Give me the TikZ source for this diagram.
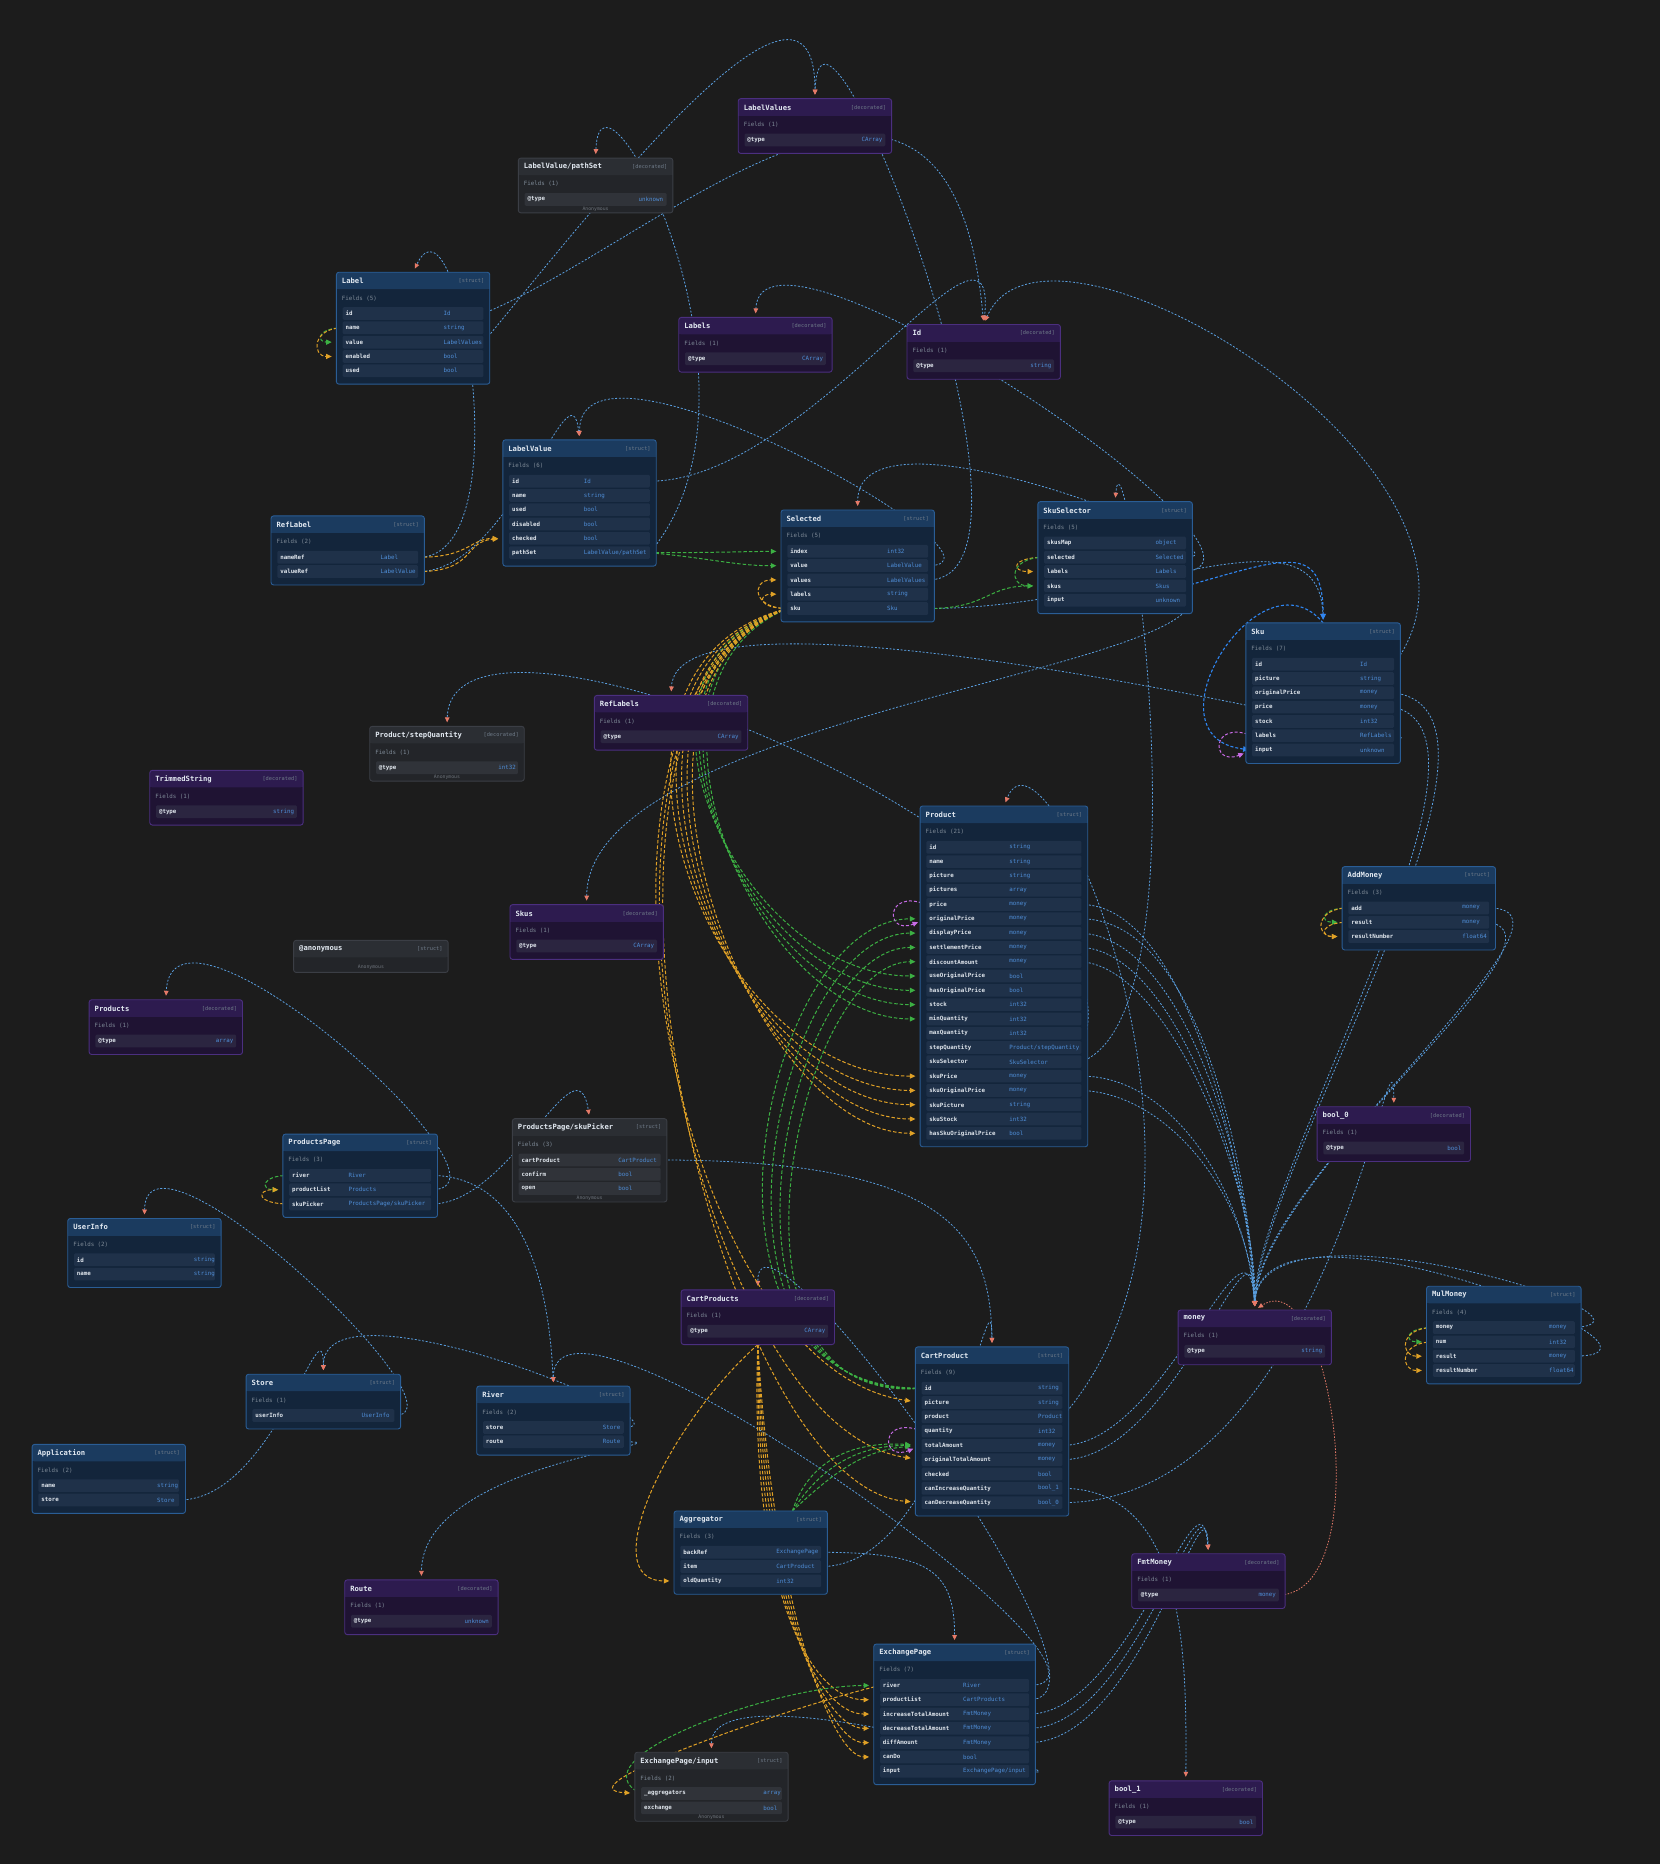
\documentclass[tikz,border=0pt]{standalone}
\usepackage{fontspec}
\setmonofont{DejaVu Sans Mono}
\usetikzlibrary{arrows.meta}

\definecolor{bgc}{HTML}{1C1C1C}
\definecolor{sbody}{HTML}{13253B}
\definecolor{shead}{HTML}{1B3B5F}
\definecolor{sline}{HTML}{2A5D95}
\definecolor{srow}{HTML}{1F3149}
\definecolor{dbody}{HTML}{1F1333}
\definecolor{dhead}{HTML}{2D1B4F}
\definecolor{dline}{HTML}{4B2F7F}
\definecolor{drow}{HTML}{2B2540}
\definecolor{abody}{HTML}{232529}
\definecolor{ahead}{HTML}{2B2E33}
\definecolor{aline}{HTML}{3B3E45}
\definecolor{arow}{HTML}{303339}
\definecolor{ctitle}{HTML}{E3EAF2}
\definecolor{ctag}{HTML}{6F7B89}
\definecolor{cfield}{HTML}{7F8B98}
\definecolor{cname}{HTML}{DFE5EC}
\definecolor{ctype}{HTML}{4F8ED8}
\definecolor{cfoot}{HTML}{6E747C}
\definecolor{cref}{HTML}{5A9FE0}
\definecolor{ctip}{HTML}{E57A68}
\definecolor{chl}{HTML}{2F86F2}
\definecolor{cdep}{HTML}{E0A126}
\definecolor{cgdep}{HTML}{3CB043}
\definecolor{cself}{HTML}{C76BE6}

\pgfdeclarelayer{back}
\pgfdeclarelayer{wires}
\pgfsetlayers{back,wires,main}

\tikzset{
  structbody/.style={fill=sbody}, structhead/.style={fill=shead},
  structline/.style={draw=sline,line width=0.9pt},
  decobody/.style={fill=dbody}, decohead/.style={fill=dhead},
  decoline/.style={draw=dline,line width=0.9pt},
  anonbody/.style={fill=abody}, anonhead/.style={fill=ahead},
  anonline/.style={draw=aline,line width=0.9pt},
  rowbase/.style={inner sep=0,outer sep=0,anchor=north west,minimum height=12.72pt,rounded corners=1.2pt},
  structrow/.style={rowbase,fill=srow},
  decorow/.style={rowbase,fill=drow},
  anonrow/.style={rowbase,fill=arow},
  boxnode/.style={inner sep=0,outer sep=0,anchor=north west},
  titletext/.style={anchor=west,inner sep=0,text=ctitle,font=\ttfamily\bfseries\fontsize{7.2}{8}\selectfont},
  tagtext/.style={anchor=east,inner sep=0,text=ctag,font=\ttfamily\fontsize{5.3}{6}\selectfont},
  fieldstext/.style={anchor=west,inner sep=0,text=cfield,font=\ttfamily\fontsize{5.8}{7}\selectfont},
  nametext/.style={anchor=west,inner sep=0,text=cname,font=\ttfamily\bfseries\fontsize{5.8}{7}\selectfont},
  typebase/.style={inner sep=0,text=ctype,font=\ttfamily\fontsize{5.8}{7}\selectfont},
  structtype/.style={typebase,anchor=west},
  anontype/.style={typebase,anchor=west},
  decotype/.style={typebase,anchor=east},
  foottext/.style={inner sep=0,text=cfoot,font=\ttfamily\fontsize{4.8}{5}\selectfont},
  ref/.style={draw=cref,line width=0.8pt,dash pattern=on 2pt off 1.7pt,
    -{Triangle[length=5pt,width=4.6pt,color=ctip]},shorten >=4pt},
  hot/.style={draw=ctip,line width=0.8pt,dash pattern=on 1.5pt off 1.5pt,
    -{Triangle[length=5pt,width=4.6pt,color=ctip]},shorten >=4pt},
  hl/.style={draw=chl,line width=1.1pt,dash pattern=on 3pt off 2pt,
    -{Triangle[length=6pt,width=5.5pt,color=chl]},shorten >=3pt},
  dep/.style={draw=cdep,line width=1pt,dash pattern=on 3.5pt off 2pt,
    -{Triangle[length=5.5pt,width=5pt,color=cdep]},shorten >=11pt},
  gdep/.style={draw=cgdep,line width=1pt,dash pattern=on 3.5pt off 2pt,
    -{Triangle[length=5.5pt,width=5pt,color=cgdep]},shorten >=11pt},
  selfdep/.style={draw=cself,line width=1pt,dash pattern=on 3pt off 2pt,
    -{Triangle[length=5.5pt,width=5pt,color=cself]},shorten >=9pt},
}

\def\anonkind{anon}
% #1 name, #2 kind, #3 x, #4 y, #5 width, #6 type column, #7 title, #8 tag, #9 fields
\newcommand{\tbox}[9]{%
  \xdef\nrows{0}%
  \foreach \rowname/\rowtype [count=\rowidx] in {#9} {\xdef\nrows{\rowidx}}%
  \pgfmathsetmacro\hb{34+12.03*\nrows}%
  \fill[#2body,rounded corners=2.5] (#3,#4) rectangle ++(#5,\hb);
  \fill[#2head,rounded corners=2.5] (#3,#4) rectangle ++(#5,14.3);
  \fill[#2head] (#3,#4+8) rectangle ++(#5,6.3);
  \draw[#2line,rounded corners=2.5] (#3,#4) rectangle ++(#5,\hb);
  \node[boxnode,minimum width=#5*1.1891pt,minimum height=\hb*1.1891pt] (#1) at (#3,#4) {};
  \node[titletext] at (#3+4.5,#4+7.3) {#7};
  \node[tagtext] at (#3+#5-4.5,#4+7.3) {#8};
  \node[fieldstext] at (#3+4.5,#4+21.9) {Fields (\nrows)};
  \foreach \rowname/\rowtype [count=\rowidx] in {#9} {%
    \pgfmathsetmacro\ry{#4+29.4+12.03*(\rowidx-1)}%
    \node[#2row,minimum width=(#5-10.6)*1.1891pt] (#1-\rowidx) at (#3+5.3,\ry) {};
    \node[nametext] at (#3+7.6,\ry+5.35) {\rowname};
    \node[#2type] at (#3+#6,\ry+5.35) {\rowtype};
  }%
  \def\kindarg{#2}\ifx\kindarg\anonkind
    \node[foottext] at (#3+#5/2,#4+\hb-3.2) {Anonymous};
  \fi
}

\begin{document}
\begin{tikzpicture}[x=1.1891pt,y=-1.1891pt]
\useasboundingbox (0,0) rectangle (1396,1568);
\begin{pgfonlayer}{back}
\fill[bgc] (0,0) rectangle (1396,1568);
\end{pgfonlayer}

% type boxes
\tbox{lvs}{deco}{621}{83}{129}{121.5}{LabelValues}{[decorated]}{@type/CArray}
\tbox{lvps}{anon}{436}{133}{130}{101}{LabelValue/pathSet}{[decorated]}{@type/unknown}
\tbox{lbl}{struct}{283}{229}{129}{90}{Label}{[struct]}{id/Id, name/string, value/LabelValues, enabled/bool, used/bool}
\tbox{lbs}{deco}{571}{267}{129}{121.5}{Labels}{[decorated]}{@type/CArray}
\tbox{idd}{deco}{763}{273}{129}{121.5}{Id}{[decorated]}{@type/string}
\tbox{lv}{struct}{423}{370}{129}{68}{LabelValue}{[struct]}{id/Id, name/string, used/bool, disabled/bool, checked/bool, pathSet/{LabelValue/pathSet}}
\tbox{rfl}{struct}{228}{434}{129}{92}{RefLabel}{[struct]}{nameRef/Label, valueRef/LabelValue}
\tbox{sel}{struct}{657}{429}{129}{89}{Selected}{[struct]}{index/int32, value/LabelValue, values/LabelValues, labels/string, sku/Sku}
\tbox{sks}{struct}{873}{422}{130}{99}{SkuSelector}{[struct]}{skusMap/object, selected/Selected, labels/Labels, skus/Skus, input/unknown}
\tbox{sku}{struct}{1048}{524}{130}{96}{Sku}{[struct]}{id/Id, picture/string, originalPrice/money, price/money, stock/int32, labels/RefLabels, input/unknown}
\tbox{rfls}{deco}{500}{585}{129}{121.5}{RefLabels}{[decorated]}{@type/CArray}
\tbox{psq}{anon}{311}{611}{130}{108}{Product/stepQuantity}{[decorated]}{@type/int32}
\tbox{tsr}{deco}{126}{648}{129}{121.5}{TrimmedString}{[decorated]}{@type/string}
\tbox{prd}{struct}{774}{678}{141}{75}{Product}{[struct]}{id/string, name/string, picture/string, pictures/array, price/money, originalPrice/money, displayPrice/money, settlementPrice/money, discountAmount/money, useOriginalPrice/bool, hasOriginalPrice/bool, stock/int32, minQuantity/int32, maxQuantity/int32, stepQuantity/{Product/stepQuantity}, skuSelector/SkuSelector, skuPrice/money, skuOriginalPrice/money, skuPicture/string, skuStock/int32, hasSkuOriginalPrice/bool}
\tbox{add}{struct}{1129}{729}{129}{101}{AddMoney}{[struct]}{add/money, result/money, resultNumber/float64}
\tbox{skus}{deco}{429}{761}{129}{121.5}{Skus}{[decorated]}{@type/CArray}
\tbox{prds}{deco}{75}{841}{129}{121.5}{Products}{[decorated]}{@type/array}
\tbox{bz}{deco}{1108}{931}{129}{121.5}{bool\_0}{[decorated]}{@type/bool}
\tbox{ppg}{struct}{238}{954}{130}{55}{ProductsPage}{[struct]}{river/River, productList/Products, skuPicker/{ProductsPage/skuPicker}}
\tbox{spk}{anon}{431}{941}{130}{89}{ProductsPage/skuPicker}{[struct]}{cartProduct/CartProduct, confirm/bool, open/bool}
\tbox{usr}{struct}{57}{1025}{129}{106}{UserInfo}{[struct]}{id/string, name/string}
\tbox{cps}{deco}{573}{1085}{129}{121.5}{CartProducts}{[decorated]}{@type/CArray}
\tbox{mny}{deco}{991}{1102}{129}{121.5}{money}{[decorated]}{@type/string}
\tbox{mul}{struct}{1200}{1082}{130}{103}{MulMoney}{[struct]}{money/money, num/int32, result/money, resultNumber/float64}
\tbox{cpr}{struct}{770}{1133}{129}{103}{CartProduct}{[struct]}{id/string, picture/string, product/Product, quantity/int32, totalAmount/money, originalTotalAmount/money, checked/bool, canIncreaseQuantity/bool\_1, canDecreaseQuantity/bool\_0}
\tbox{sto}{struct}{207}{1156}{130}{97}{Store}{[struct]}{userInfo/UserInfo}
\tbox{riv}{struct}{401}{1166}{129}{106}{River}{[struct]}{store/Store, route/Route}
\tbox{app}{struct}{27}{1215}{129}{105}{Application}{[struct]}{name/string, store/Store}
\tbox{agg}{struct}{567}{1271}{129}{86}{Aggregator}{[struct]}{backRef/ExchangePage, item/CartProduct, oldQuantity/int32}
\tbox{fmt}{deco}{952}{1307}{129}{121.5}{FmtMoney}{[decorated]}{@type/money}
\tbox{rte}{deco}{290}{1329}{129}{121.5}{Route}{[decorated]}{@type/unknown}
\tbox{exp}{struct}{735}{1383}{136}{75}{ExchangePage}{[struct]}{river/River, productList/CartProducts, increaseTotalAmount/FmtMoney, decreaseTotalAmount/FmtMoney, diffAmount/FmtMoney, canDo/bool, input/{ExchangePage/input}}
\tbox{exi}{anon}{534}{1474}{129}{108}{ExchangePage/input}{[struct]}{\_aggregators/array, exchange/bool}
\tbox{bo}{deco}{933}{1498}{129}{121.5}{bool\_1}{[decorated]}{@type/bool}

% @anonymous has no fields
\fill[anonbody,rounded corners=2.5] (247,791) rectangle ++(130,27);
\fill[anonhead,rounded corners=2.5] (247,791) rectangle ++(130,14.3);
\fill[anonhead] (247,799) rectangle ++(130,6.3);
\draw[anonline,rounded corners=2.5] (247,791) rectangle ++(130,27);
\node[boxnode,minimum width=130*1.1891pt,minimum height=27*1.1891pt] (anm) at (247,791) {};
\node[titletext] at (251.5,798.3) {@anonymous};
\node[tagtext] at (372.5,798.3) {[struct]};
\node[foottext] at (312,813.5) {Anonymous};

\begin{pgfonlayer}{wires}
% field -> type references
\path[ref] (lbl-1.east) .. controls (560,200) and (800,-40) .. (idd.north);
\path[ref] (lbl-3.east) .. controls (480,200) and (686,-70) .. (lvs.north);
\path[ref] (lv-1.east) .. controls (680,405) and (840,150) .. (idd.north);
\path[ref] (lv-6.east) .. controls (660,330) and (505,30) .. (lvps.north);
\path[ref] (rfl-1.east) .. controls (440,470) and (385,150) .. (lbl.north);
\path[ref] (rfl-2.east) .. controls (430,481) and (480,300) .. (lv.north);
\path[ref] (sel-2.east) .. controls (870,476) and (487,260) .. (lv.north);
\path[ref] (sel-3.east) .. controls (900,488) and (690,-60) .. (lvs.north);
\path[ref] (sel-5.east) .. controls (950,512) and (1110,420) .. (sku.north);
\path[ref] (sks-2.east) .. controls (1060,469) and (721,330) .. (sel.north);
\path[ref] (sks-3.east) .. controls (1100,470) and (640,160) .. (lbs.north);
\path[ref] (sks-4.east) .. controls (1060,560) and (494,600) .. (skus.north);
\path[ref] (sku-1.east) .. controls (1290,400) and (880,150) .. (idd.north);
\path[ref] (sku-3.east) .. controls (1300,600) and (1060,980) .. (mny.north);
\path[ref] (sku-4.east) .. controls (1280,620) and (1055,990) .. (mny.north);
\path[ref] (sku-6.east) .. controls (1250,640) and (570,470) .. (rfls.north);
\path[ref] (prd-5.east) .. controls (1000,761) and (1050,990) .. (mny.north);
\path[ref] (prd-6.east) .. controls (1010,773) and (1052,990) .. (mny.north);
\path[ref] (prd-7.east) .. controls (1000,790) and (1054,995) .. (mny.north);
\path[ref] (prd-8.east) .. controls (990,800) and (1056,1000) .. (mny.north);
\path[ref] (prd-9.east) .. controls (985,815) and (1058,1000) .. (mny.north);
\path[ref] (prd-17.east) .. controls (990,905) and (1050,1010) .. (mny.north);
\path[ref] (prd-18.east) .. controls (985,920) and (1052,1010) .. (mny.north);
\path[ref] (prd-15.east) .. controls (980,720) and (380,470) .. (psq.north);
\path[ref] (prd-16.east) .. controls (1020,850) and (945,340) .. (sks.north);
\path[ref] (add-1.east) .. controls (1350,764) and (1060,990) .. (mny.north);
\path[ref] (add-2.east) .. controls (1330,790) and (1058,990) .. (mny.north);
\path[ref] (mul-1.east) .. controls (1420,1110) and (1060,1000) .. (mny.north);
\path[ref] (mul-3.east) .. controls (1440,1140) and (1060,990) .. (mny.north);
\path[ref] (ppg-1.east) .. controls (440,989) and (462,1080) .. (riv.north);
\path[ref] (ppg-2.east) .. controls (450,1001) and (145,730) .. (prds.north);
\path[ref] (ppg-3.east) .. controls (430,1013) and (485,870) .. (spk.north);
\path[ref] (spk-1.east) .. controls (800,976) and (833,1040) .. (cpr.north);
\path[ref] (cpr-3.east) .. controls (1060,1000) and (880,590) .. (prd.north);
\path[ref] (cpr-5.east) .. controls (980,1216) and (1050,1000) .. (mny.north);
\path[ref] (cpr-6.east) .. controls (990,1228) and (1055,1000) .. (mny.north);
\path[ref] (cpr-8.east) .. controls (1000,1252) and (998,1400) .. (bo.north);
\path[ref] (cpr-9.east) .. controls (1120,1264) and (1172,830) .. (bz.north);
\path[ref] (sto-1.east) .. controls (400,1191) and (123,930) .. (usr.north);
\path[ref] (riv-1.east) .. controls (590,1201) and (272,1070) .. (sto.north);
\path[ref] (riv-2.east) .. controls (590,1213) and (355,1230) .. (rte.north);
\path[ref] (app-2.east) .. controls (230,1262) and (272,1090) .. (sto.north);
\path[ref] (agg-1.east) .. controls (780,1306) and (803,1320) .. (exp.north);
\path[ref] (agg-2.east) .. controls (800,1318) and (834,1050) .. (cpr.north);
\path[ref] (exp-1.east) .. controls (980,1418) and (465,1050) .. (riv.north);
\path[ref] (exp-2.east) .. controls (960,1430) and (637,990) .. (cps.north);
\path[ref] (exp-3.east) .. controls (950,1442) and (1010,1220) .. (fmt.north);
\path[ref] (exp-4.east) .. controls (955,1454) and (1012,1225) .. (fmt.north);
\path[ref] (exp-5.east) .. controls (960,1466) and (1014,1230) .. (fmt.north);
\path[ref] (exp-7.east) .. controls (930,1500) and (598,1400) .. (exi.north);
\path[hot] (fmt-1.east) .. controls (1160,1340) and (1120,1060) .. (mny.north);
\path[hl] (sks-4.east) .. controls (1080,470) and (1113,455) .. (sku.north);
\path[hl] (sku.north) .. controls (1060,460) and (960,620) .. (sku-7.west);

% computed fields
\path[dep] (rfl-1.east) .. controls (395,469) and (395,453) .. (lv-5.west);
\path[dep] (rfl-2.east) .. controls (400,481) and (390,455) .. (lv-5.west);
\path[gdep] (lv-6.east) .. controls (600,465) and (620,464) .. (sel-1.west);
\path[gdep] (lv-6.east) .. controls (600,470) and (620,476) .. (sel-2.west);
\path[gdep] (sel-5.east) .. controls (830,512) and (830,493) .. (sks-4.west);
\path[dep] (sel-5.west) .. controls +(-30,0) and +(-30,0) .. (sel-3.west);
\path[dep] (sel-5.west) .. controls +(-25,0) and +(-25,0) .. (sel-4.west);
\path[dep] (sks-2.west) .. controls +(-28,0) and +(-28,0) .. (sks-3.west);
\path[gdep] (sks-2.west) .. controls +(-30,0) and +(-30,0) .. (sks-4.west);
\path[gdep] (lbl-2.west) .. controls +(-22,0) and +(-22,0) .. (lbl-3.west);
\path[dep] (lbl-2.west) .. controls +(-26,0) and +(-26,0) .. (lbl-4.west);
\path[gdep] (ppg-1.west) .. controls +(-24,0) and +(-24,0) .. (ppg-2.west);
\path[dep] (ppg-3.west) .. controls +(-28,0) and +(-28,0) .. (ppg-2.west);
\path[gdep] (add-1.west) .. controls +(-24,0) and +(-24,0) .. (add-2.west);
\path[dep] (add-1.west) .. controls +(-28,0) and +(-28,0) .. (add-3.west);
\path[dep] (add-2.west) .. controls +(-24,0) and +(-24,0) .. (add-3.west);
\path[gdep] (mul-1.west) .. controls +(-24,0) and +(-24,0) .. (mul-2.west);
\path[dep] (mul-1.west) .. controls +(-28,0) and +(-28,0) .. (mul-3.west);
\path[dep] (mul-2.west) .. controls +(-28,0) and +(-28,0) .. (mul-4.west);
\path[gdep] (sel-5.west) .. controls (500,560) and (620,821) .. (prd-10.west);
\path[gdep] (sel-5.west) .. controls (505,565) and (625,833) .. (prd-11.west);
\path[gdep] (sel-5.west) .. controls (510,570) and (630,845) .. (prd-12.west);
\path[gdep] (sel-5.west) .. controls (515,575) and (635,857) .. (prd-13.west);
\path[dep] (sel-5.west) .. controls (470,560) and (590,905) .. (prd-17.west);
\path[dep] (sel-5.west) .. controls (475,565) and (600,917) .. (prd-18.west);
\path[dep] (sel-5.west) .. controls (480,570) and (610,929) .. (prd-19.west);
\path[dep] (sel-5.west) .. controls (485,575) and (620,941) .. (prd-20.west);
\path[dep] (sel-5.west) .. controls (490,580) and (630,953) .. (prd-21.west);
\path[dep] (sel-5.west) .. controls (460,580) and (560,1150) .. (cpr-2.west);
\path[dep] (sel-5.west) .. controls (455,585) and (580,1200) .. (cpr-6.west);
\path[dep] (sel-5.west) .. controls (450,590) and (600,1250) .. (cpr-9.west);
\path[gdep] (cpr-1.west) .. controls (560,1170) and (640,773) .. (prd-6.west);
\path[gdep] (cpr-1.west) .. controls (570,1175) and (650,785) .. (prd-7.west);
\path[gdep] (cpr-1.west) .. controls (580,1180) and (660,797) .. (prd-8.west);
\path[gdep] (cpr-1.west) .. controls (590,1185) and (670,809) .. (prd-9.west);
\path[gdep] (agg.45) .. controls (690,1235) and (720,1216) .. (cpr-5.west);
\path[gdep] (agg.45) .. controls (680,1230) and (715,1212) .. (cpr-5.west);
\path[gdep] (agg.45) .. controls (700,1240) and (725,1220) .. (cpr-5.west);
\path[dep] (cps.south) .. controls (630,1330) and (680,1430) .. (exp-2.west);
\path[dep] (cps.south) .. controls (635,1335) and (685,1442) .. (exp-3.west);
\path[dep] (cps.south) .. controls (640,1340) and (690,1454) .. (exp-4.west);
\path[dep] (cps.south) .. controls (645,1345) and (695,1466) .. (exp-5.west);
\path[dep] (cps.south) .. controls (650,1350) and (700,1478) .. (exp-6.west);
\path[dep] (cps.south) .. controls (560,1200) and (500,1330) .. (agg-3.west);
\path[dep] (exp-1.west) .. controls (650,1440) and (470,1505) .. (exi-1.west);
\path[gdep] (exi-1.west) .. controls (480,1480) and (650,1418) .. (exp-1.west);
\path[selfdep] (prd-5.west) .. controls +(-35,-14) and +(-35,14) .. (prd-6.west);
\path[selfdep] (cpr-4.west) .. controls +(-35,-14) and +(-35,14) .. (cpr-5.west);
\path[selfdep] (sku-6.west) .. controls +(-35,-14) and +(-35,14) .. (sku-7.west);
\end{pgfonlayer}
\end{tikzpicture}
\end{document}
